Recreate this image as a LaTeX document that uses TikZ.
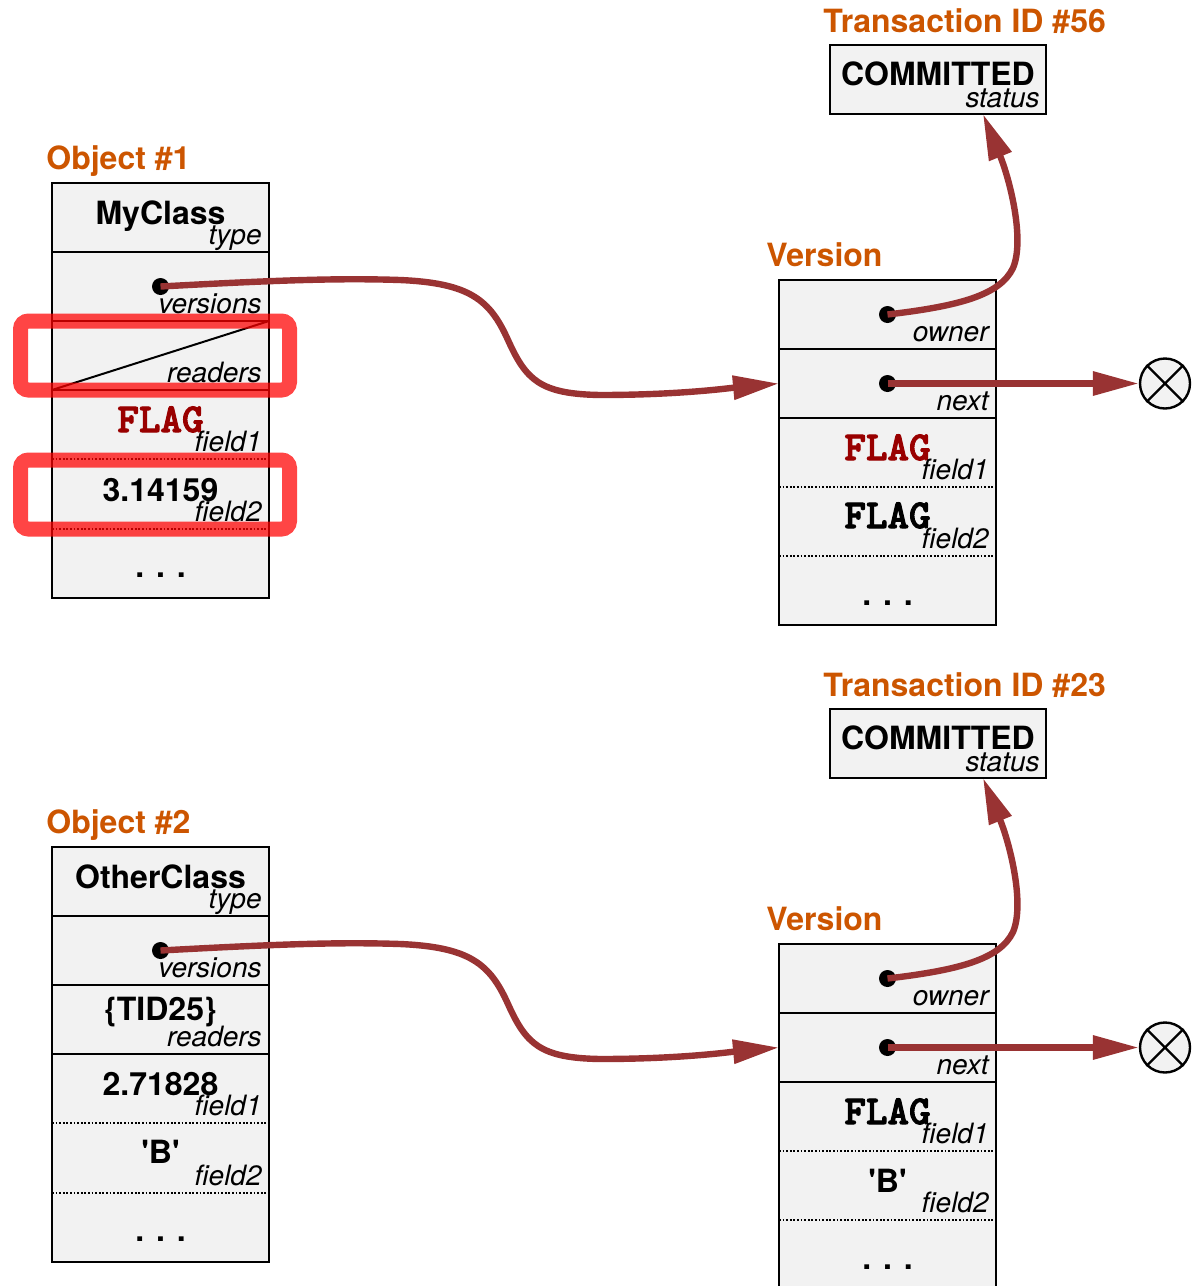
\documentclass[tikz,border=0pt]{standalone}
\usepackage{fontspec}
\setmainfont{TeX Gyre Heros}
\newfontfamily\flagfont{lmmonolt10-bold.otf}[FakeBold=2.5]
\usetikzlibrary{calc,arrows.meta,backgrounds}
\definecolor{boxgray}{RGB}{242,242,242}
\definecolor{lbl}{RGB}{204,85,0}
\definecolor{arr}{RGB}{153,51,51}
\definecolor{flagred}{RGB}{153,0,0}
\newcommand{\FLAG}{{\fontsize{20.5}{21}\selectfont\flagfont FLAG}}
\newcommand{\QB}{\textquotesingle B\textquotesingle}
\newcommand{\frow}[6]{%
  \node[rowbox] (#1) at (#2,#3) {};
  \node[valtxt] (#1v) at ($(#1.north)+(0,#6)$) {#4};
  \node[labtxt] (#1l) at ($(#1.south east)+(-7,-7.5)$) {#5};
}
\tikzset{
 rowbox/.style={rectangle, minimum width=108.5pt, minimum height=34.5pt, inner sep=0pt, outer sep=0pt, anchor=north west},
 valtxt/.style={anchor=base, inner sep=0pt, font=\fontsize{16}{18}\selectfont\bfseries},
 labtxt/.style={anchor=base east, inner sep=0pt, font=\fontsize{14}{16}\selectfont\itshape},
 title/.style={anchor=base west, inner sep=0pt, text=lbl, font=\fontsize{16}{18}\selectfont\bfseries},
 boxline/.style={draw=black, line width=1.3pt},
 dotsep/.style={draw=black, line width=1pt, dash pattern=on 0.9pt off 0.9pt},
 ptr/.style={circle, fill=black, minimum size=8.5pt, inner sep=0pt},
 link/.style={draw=arr, line width=3.2pt, -{Triangle[length=23pt,width=11.5pt]}},
 nilnode/.style={circle, draw=black, fill=boxgray, line width=1.2pt, minimum size=25pt, inner sep=0pt},
 hl/.style={draw=red, draw opacity=0.73, line width=7.5pt, rounded corners=4pt},
}
\begin{document}
\begin{tikzpicture}[x=0.5pt,y=-0.5pt]
\useasboundingbox (0,0) rectangle (1192,1286);

% ================= TOP =================
\node[title] (obj1) at (46,169) {Object \#1};
\node[title] (ver1) at (766,266) {Version};
\node[title] (tid1) at (823,32) {Transaction ID \#56};

% transaction
\node[rowbox, minimum width=108pt] (t1) at (830,45) {};
\node[valtxt] (t1v) at ($(t1.north)+(0,40)$) {COMMITTED};
\node[labtxt] (t1l) at ($(t1.south east)+(-6,-7)$) {status};
\begin{scope}[on background layer]
\fill[boxgray] (t1.north west) rectangle (t1.south east);
\end{scope}
\draw[boxline] (t1.north west) rectangle (t1.south east);

% object 1
\frow{o1a}{52}{183}{MyClass}{type}{41}
\frow{o1b}{52}{252}{}{versions}{40}
\frow{o1c}{52}{321}{}{readers}{40}
\frow{o1d}{52}{390}{\textcolor{flagred}{\FLAG}}{field1}{42}
\frow{o1e}{52}{460}{3.14159}{field2}{41}
\frow{o1f}{52}{529}{. . .}{}{48}
\begin{scope}[on background layer]
\fill[boxgray] (o1a.north west) rectangle (o1f.south east);
\end{scope}
\draw[boxline] (o1a.north west) rectangle (o1f.south east);
\draw[boxline] (o1a.south west) -- (o1a.south east);
\draw[boxline] (o1b.south west) -- (o1b.south east);
\draw[boxline] (o1c.south west) -- (o1c.south east);
\draw[dotsep] (o1d.south west) -- (o1d.south east);
\draw[dotsep] (o1e.south west) -- (o1e.south east);
\draw[line width=1pt] (o1c.south west) -- (o1c.north east);

% version 1
\frow{v1a}{779}{280}{}{owner}{40}
\frow{v1b}{779}{349}{}{next}{40}
\frow{v1c}{779}{418}{\textcolor{flagred}{\FLAG}}{field1}{42}
\frow{v1d}{779}{487}{\FLAG}{field2}{41}
\frow{v1e}{779}{556}{. . .}{}{49}
\begin{scope}[on background layer]
\fill[boxgray] (v1a.north west) rectangle (v1e.south east);
\end{scope}
\draw[boxline] (v1a.north west) rectangle (v1e.south east);
\draw[boxline] (v1a.south west) -- (v1a.south east);
\draw[boxline] (v1b.south west) -- (v1b.south east);
\draw[dotsep] (v1c.south west) -- (v1c.south east);
\draw[dotsep] (v1d.south west) -- (v1d.south east);

\node[ptr] (o1p) at (o1b.center) {};
\node[ptr] (v1op) at (v1a.center) {};
\node[ptr] (v1np) at (v1b.center) {};
\node[nilnode] (nil1) at (1165,383.5) {};
\draw[line width=1.2pt] (nil1.north west) -- (nil1.south east) (nil1.north east) -- (nil1.south west);

\draw[link] (o1p.center) .. controls (280,280) and (340,278) .. (400,280)
  .. controls (470,283) and (490,300) .. (508,340)
  .. controls (526,380) and (540,394) .. (600,395)
  .. controls (680,395) and (730,388) .. (v1b.west);
\draw[link] (v1op.center) .. controls (960,306) and (1000,295) .. (1013,268)
  .. controls (1025,240) and (1010,180) .. ($(t1.south)+(45,0)$);
\draw[link] (v1np.center) -- (nil1.west);

% highlights
\draw[hl] ($(o1c.north west)+(-31.5,0)$) rectangle ($(o1c.south east)+(20.5,0)$);
\draw[hl] ($(o1e.north west)+(-31.5,0)$) rectangle ($(o1e.south east)+(20.5,0)$);

% ================= BOTTOM =================
\begin{scope}[yshift=-332pt]
\node[title] (obj2) at (46,169) {Object \#2};
\node[title] (ver2) at (766,266) {Version};
\node[title] (tid2) at (823,32) {Transaction ID \#23};

\node[rowbox, minimum width=108pt] (t2) at (830,45) {};
\node[valtxt] (t2v) at ($(t2.north)+(0,40)$) {COMMITTED};
\node[labtxt] (t2l) at ($(t2.south east)+(-6,-7)$) {status};
\begin{scope}[on background layer]
\fill[boxgray] (t2.north west) rectangle (t2.south east);
\end{scope}
\draw[boxline] (t2.north west) rectangle (t2.south east);

\frow{o2a}{52}{183}{OtherClass}{type}{41}
\frow{o2b}{52}{252}{}{versions}{40}
\frow{o2c}{52}{321}{\{TID25\}}{readers}{35}
\frow{o2d}{52}{390}{2.71828}{field1}{41}
\frow{o2e}{52}{460}{\QB}{field2}{39}
\frow{o2f}{52}{529}{. . .}{}{48}
\begin{scope}[on background layer]
\fill[boxgray] (o2a.north west) rectangle (o2f.south east);
\end{scope}
\draw[boxline] (o2a.north west) rectangle (o2f.south east);
\draw[boxline] (o2a.south west) -- (o2a.south east);
\draw[boxline] (o2b.south west) -- (o2b.south east);
\draw[boxline] (o2c.south west) -- (o2c.south east);
\draw[dotsep] (o2d.south west) -- (o2d.south east);
\draw[dotsep] (o2e.south west) -- (o2e.south east);

\frow{v2a}{779}{280}{}{owner}{40}
\frow{v2b}{779}{349}{}{next}{40}
\frow{v2c}{779}{418}{\FLAG}{field1}{42}
\frow{v2d}{779}{487}{\QB}{field2}{41}
\frow{v2e}{779}{556}{. . .}{}{49}
\begin{scope}[on background layer]
\fill[boxgray] (v2a.north west) rectangle (v2e.south east);
\end{scope}
\draw[boxline] (v2a.north west) rectangle (v2e.south east);
\draw[boxline] (v2a.south west) -- (v2a.south east);
\draw[boxline] (v2b.south west) -- (v2b.south east);
\draw[dotsep] (v2c.south west) -- (v2c.south east);
\draw[dotsep] (v2d.south west) -- (v2d.south east);

\node[ptr] (o2p) at (o2b.center) {};
\node[ptr] (v2op) at (v2a.center) {};
\node[ptr] (v2np) at (v2b.center) {};
\node[nilnode] (nil2) at (1165,383.5) {};
\draw[line width=1.2pt] (nil2.north west) -- (nil2.south east) (nil2.north east) -- (nil2.south west);

\draw[link] (o2p.center) .. controls (280,280) and (340,278) .. (400,280)
  .. controls (470,283) and (490,300) .. (508,340)
  .. controls (526,380) and (540,394) .. (600,395)
  .. controls (680,395) and (730,388) .. (v2b.west);
\draw[link] (v2op.center) .. controls (960,306) and (1000,295) .. (1013,268)
  .. controls (1025,240) and (1010,180) .. ($(t2.south)+(45,0)$);
\draw[link] (v2np.center) -- (nil2.west);
\end{scope}
\end{tikzpicture}
\end{document}
